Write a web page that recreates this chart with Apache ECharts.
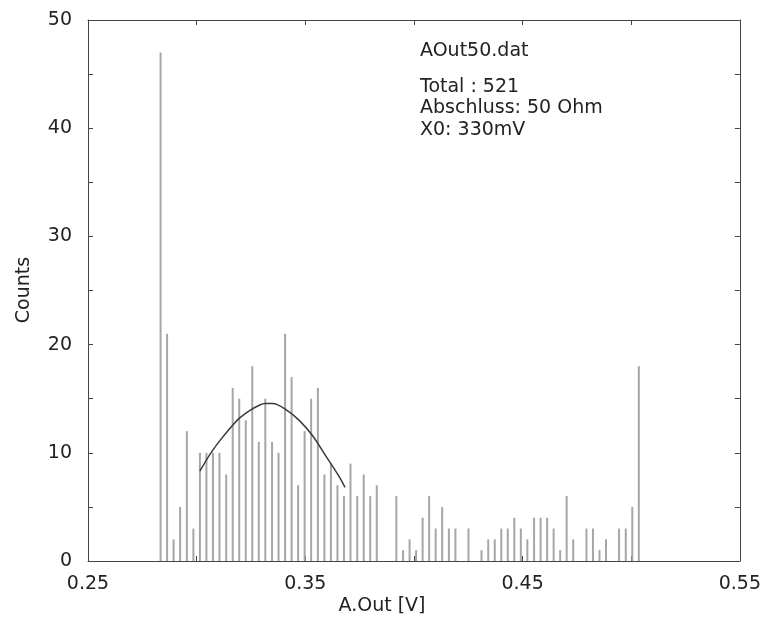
<!DOCTYPE html>
<html>
<head>
<meta charset="utf-8">
<script src="https://cdn.jsdelivr.net/npm/echarts@6/dist/echarts.min.js"></script>
<style>html,body{margin:0;padding:0;background:#fff;}#c{width:764px;height:632px;}</style>
</head>
<body>
<div id="c"></div>
<script>
// Histogram bin centres (A.Out [V]) and counts
const binCenters = [0.2834,0.2864,0.2894,0.2924,0.2955,0.2985,0.3015,0.3045,0.3075,0.3105,
  0.3136,0.3166,0.3196,0.3226,0.3256,0.3286,0.3316,0.3347,0.3377,0.3407,
  0.3437,0.3467,0.3497,0.3527,0.3558,0.3588,0.3618,0.3648,0.3678,0.3708,
  0.3739,0.3769,0.3799,0.3829,0.3859,0.3889,0.3919,0.3950,0.3980,0.4010,
  0.4040,0.4070,0.4100,0.4130,0.4161,0.4191,0.4221,0.4251,0.4281,0.4311,
  0.4342,0.4372,0.4402,0.4432,0.4462,0.4492,0.4522,0.4553,0.4583,0.4613,
  0.4643,0.4673,0.4703,0.4733,0.4764,0.4794,0.4824,0.4854,0.4884,0.4914,
  0.4944,0.4975,0.5005,0.5035];
const counts = [47,21,2,5,12,3,10,10,10,10,
  8,16,15,13,18,11,15,11,10,21,
  17,7,12,15,16,8,9,7,6,9,
  6,8,6,7,0,0,6,1,2,1,
  4,6,3,5,3,3,0,3,0,1,
  2,2,3,3,4,3,2,4,4,4,
  3,1,6,2,0,3,3,1,2,0,
  3,3,5,18];
// Gaussian fit curve
const fitX = [0.3015,0.3044,0.3073,0.3106,0.3151,0.3197,0.3251,0.3289,0.3312,0.3350,0.3411,0.3472,0.3533,0.3595,0.3656,0.3683];
const fitY = [8.3,9.3,10.2,11.1,12.2,13.2,14.0,14.4,14.55,14.55,14.0,13.0,11.6,9.7,7.8,6.8];
const xTickLabels = ['0.25','0.35','0.45','0.55'];
const yTickLabels = ['0','10','20','30','40','50'];
const infoLines = ['AOut50.dat','Total : 521','Abschluss: 50 Ohm','X0: 330mV'];

const FONT = 'DejaVu Sans';
const chart = echarts.init(document.getElementById('c'), null, {renderer:'canvas'});
const axisLine = {show:true, onZero:false, lineStyle:{color:'#444', width:1}};
const tick = {show:true, inside:true, length:5, lineStyle:{color:'#444'}};
function xFmt(v){ const s=v.toFixed(2); return xTickLabels.indexOf(s)>=0 ? s : ''; }
function yFmt(v){ const s=String(Math.round(v)); return yTickLabels.indexOf(s)>=0 ? s : ''; }
const option = {
  backgroundColor:'#fff',
  animation:false,
  grid:{left:88, right:22, top:20, bottom:71, show:false},
  xAxis:[
    {type:'value', min:0.25, max:0.55, interval:0.05, position:'bottom',
     axisLine:axisLine, splitLine:{show:false}, axisTick:tick,
     axisLabel:{formatter:xFmt, margin:14, fontFamily:FONT, fontSize:19, color:'#222', showMinLabel:true, showMaxLabel:true}},
    {type:'value', min:0.25, max:0.55, interval:0.05, position:'top',
     axisLine:axisLine, splitLine:{show:false}, axisTick:tick,
     axisLabel:{show:false}}
  ],
  yAxis:[
    {type:'value', min:0, max:50, interval:5, position:'left',
     axisLine:axisLine, splitLine:{show:false}, axisTick:tick,
     axisLabel:{formatter:yFmt, margin:16, fontFamily:FONT, fontSize:19, color:'#222'}},
    {type:'value', min:0, max:50, interval:5, position:'right',
     axisLine:axisLine, splitLine:{show:false}, axisTick:tick,
     axisLabel:{show:false}}
  ],
  series:[
    {type:'bar', xAxisIndex:0, yAxisIndex:0, barWidth:2,
     itemStyle:{color:'#a6a6a6'},
     data: binCenters.map((x,i)=>[x, counts[i]])},
    {type:'line', xAxisIndex:0, yAxisIndex:0, smooth:0.3, symbol:'none',
     lineStyle:{color:'#3a3a3a', width:1.5},
     data: fitX.map((x,i)=>[x, fitY[i]]), z:5}
  ],
  graphic:[
    {type:'text', left:420, top:42, style:{text:infoLines[0], font:'19px "DejaVu Sans"', fill:'#222'}},
    {type:'text', left:420, top:76, style:{text:infoLines.slice(1).join('\n'), font:'19px "DejaVu Sans"', fill:'#222', lineHeight:21.5}},
    {type:'text', left:'center', top:597, style:{text:'A.Out [V]', font:'19px "DejaVu Sans"', fill:'#222'}},
    {type:'text', x:15, y:290, rotation:Math.PI/2, style:{text:'Counts', font:'19px "DejaVu Sans"', fill:'#222', align:'center', verticalAlign:'top'}}
  ]
};
chart.setOption(option);
</script>
</body>
</html>
